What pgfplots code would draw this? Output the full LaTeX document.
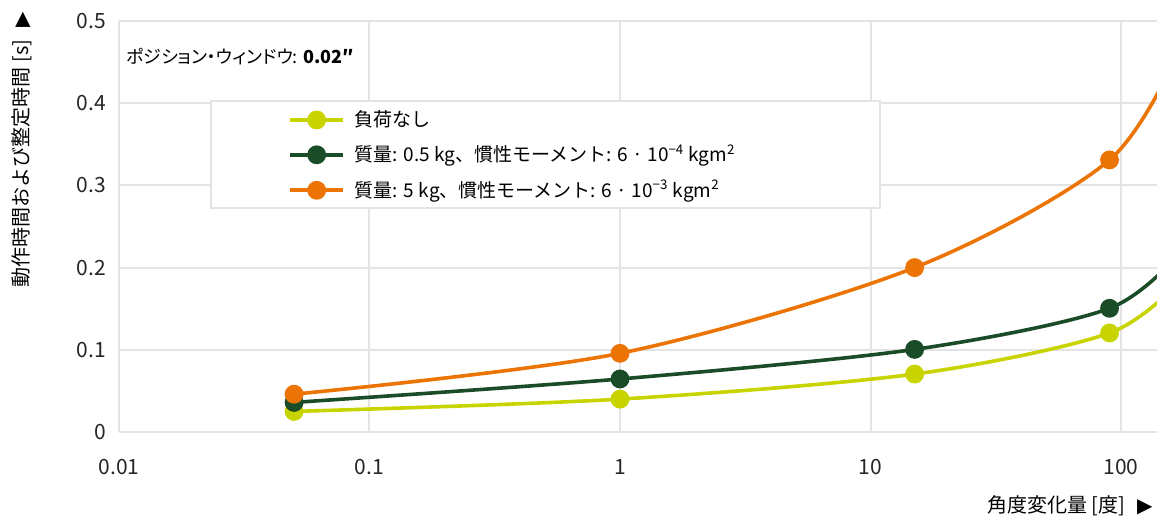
\documentclass[border=0pt]{standalone}
\usepackage{fontspec}
\setmainfont{Noto Sans CJK JP}
\newfontfamily\jpp[RawFeature=+palt]{Noto Sans CJK JP}
\newfontfamily\dejavu{DejaVu Sans}
\usepackage{pgfplots}
\pgfplotsset{compat=1.18}
\definecolor{cyel}{RGB}{200,212,0}
\definecolor{cgrn}{RGB}{26,76,40}
\definecolor{corg}{RGB}{236,116,4}
\definecolor{cgrid}{RGB}{228,228,228}
\begin{document}
\begin{tikzpicture}
\useasboundingbox (-59.5pt,-43.5pt) rectangle (519pt,216pt);
\begin{axis}[
  name=ax,
  at={(0,0)}, anchor=south west,
  scale only axis, width=519pt, height=205.5pt,
  xmode=log, xmin=0.01, xmax=139.2, ymin=0, ymax=0.5,
  xtick={0.01,0.1,1,10,100}, xticklabels={0.01,0.1,1,10,100},
  ytick={0,0.1,0.2,0.3,0.4,0.5}, yticklabels={0,0.1,0.2,0.3,0.4,0.5},
  xminorticks=false,
  grid=major, major grid style={cgrid, line width=1pt},
  axis x line*=bottom, axis y line*=left,
  axis line style={cgrid, line width=1pt, -},
  major tick length=0pt,
  tick label style={font=\fontsize{10.5}{12}\selectfont, text=black!85},
  xticklabel style={yshift=-10pt},
  yticklabel style={xshift=-3pt},
  legend style={draw=none, fill=none, at={(0.1628,0.793)}, anchor=north west,
    inner sep=0pt, row sep=3.6pt, font=\fontsize{9.5}{11}\selectfont,
    /tikz/every odd column/.style={column sep=3pt}},
  legend cell align=left,
  legend image code/.code={\draw[mark indices={2}] plot coordinates {(0pt,0pt) (13.25pt,0pt) (26.5pt,0pt)};},
]
\draw[cgrid, line width=1pt, fill=white] (rel axis cs:0.0886,0.5450) rectangle (rel axis cs:0.7331,0.8054);
\node[anchor=west, inner sep=0pt, font=\jpp\fontsize{9}{11}\selectfont] at (rel axis cs:0.0067,0.9124) {ポジション・ウィンドウ: \textbf{0.02″}};
\addplot[cyel, line width=1.8pt, smooth, mark=*, mark size=3.8pt, mark options={fill=cyel, draw=none}, mark indices={1,2,3,4}]
  coordinates {(0.05,0.025) (1,0.040) (15,0.0705) (90,0.1205) (180,0.19)};
\addlegendentry{負荷なし}
\addplot[cgrn, line width=1.8pt, smooth, mark=*, mark size=3.8pt, mark options={fill=cgrn, draw=none}, mark indices={1,2,3,4}]
  coordinates {(0.05,0.036) (1,0.0645) (15,0.1005) (90,0.1505) (180,0.225)};
\addlegendentry{質量: 0.5 kg、慣性モーメント: 6 · 10\textsuperscript{−4} kgm\textsuperscript{2}}
\addplot[corg, line width=1.8pt, smooth, mark=*, mark size=3.8pt, mark options={fill=corg, draw=none}, mark indices={1,2,3,4}]
  coordinates {(0.05,0.046) (1,0.0957) (15,0.2) (90,0.331) (180,0.48)};
\addlegendentry{質量: 5 kg、慣性モーメント: 6 · 10\textsuperscript{−3} kgm\textsuperscript{2}}
\end{axis}
\node[rotate=90, anchor=east, inner sep=0pt, font=\fontsize{10}{12}\selectfont] at ([shift={(-48.5pt,4.5pt)}]ax.north west) {動作時間および整定時間 [s]\hspace{6pt}{\dejavu ▶}};
\node[anchor=east, inner sep=0pt, font=\fontsize{10}{12}\selectfont] at ([shift={(-2pt,-37pt)}]ax.south east) {角度変化量 [度]\hspace{6pt}{\dejavu ▶}};
\end{tikzpicture}
\end{document}
